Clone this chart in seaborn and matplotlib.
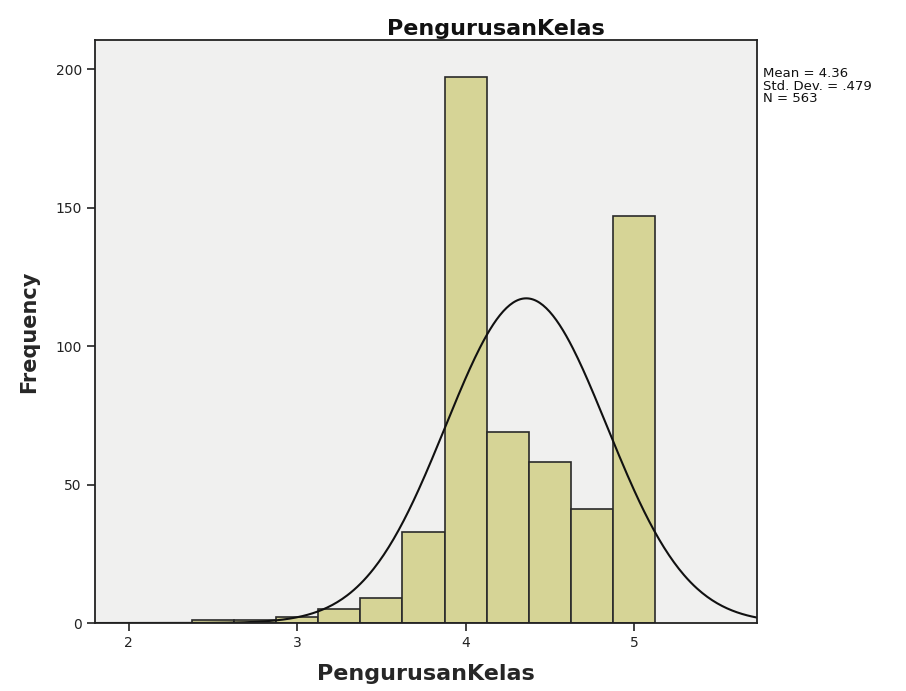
import numpy as np
import pandas as pd
import matplotlib
matplotlib.use("Agg")
import matplotlib.pyplot as plt
import seaborn as sns

# Histogram of PengurusanKelas: bin centres and frequencies
bin_centers = [2.5, 2.75, 3.0, 3.25, 3.5, 3.75, 4.0, 4.25, 4.5, 4.75, 5.0]
frequencies = [1, 1, 2, 5, 9, 33, 197, 69, 58, 41, 147]
bin_width = 0.25

# Summary statistics shown beside the plot
mean_val = 4.36
std_val = 0.479
n_val = 563

x_ticks = [2, 3, 4, 5]
y_ticks = [0, 50, 100, 150, 200]

df = pd.DataFrame({"PengurusanKelas": bin_centers, "count": frequencies})

sns.set_style("white")
plt.rcParams["font.family"] = ["DejaVu Sans"]

fig = plt.figure(figsize=(9.06, 6.91), dpi=100)
ax = fig.add_axes([0.105, 0.0984, 0.7305, 0.8437])
ax.set_facecolor("#f0f0ef")

sns.histplot(data=df, x="PengurusanKelas", weights="count",
             binwidth=bin_width,
             binrange=(min(bin_centers) - bin_width / 2, max(bin_centers) + bin_width / 2),
             color="#d6d496", edgecolor="#2a2a2a", linewidth=1.2, alpha=1.0, ax=ax)

# Fitted normal curve scaled to the histogram
xs = np.linspace(1.80, 5.73, 400)
ys = n_val * bin_width * np.exp(-0.5 * ((xs - mean_val) / std_val) ** 2) / (std_val * np.sqrt(2 * np.pi))
sns.lineplot(x=xs, y=ys, color="#111111", linewidth=1.5, ax=ax)

ax.set_xlim(1.80, 5.73)
ax.set_ylim(0, 210.5)
ax.set_xticks(x_ticks)
ax.set_yticks(y_ticks)
ax.tick_params(axis="both", which="both", direction="out", length=6, width=1.2,
               color="#222222", labelsize=10, labelcolor="#222222",
               bottom=True, left=True, top=False, right=False)
for s in ax.spines.values():
    s.set_color("#222222")
    s.set_linewidth(1.3)

ax.set_xlabel("PengurusanKelas", fontsize=16, fontweight="bold", labelpad=10)
ax.set_ylabel("Frequency", fontsize=15, fontweight="bold", labelpad=12)
fig.text(0.547, 0.958, "PengurusanKelas", fontsize=16, fontweight="bold",
         ha="center", va="center", color="#111111")

fig.text(0.842, 0.903, f"Mean = {mean_val}\nStd. Dev. = .{int(round(std_val*1000))}\nN = {n_val}",
         fontsize=9.5, va="top", ha="left", linespacing=0.95, color="#111111")

fig.savefig("out.png", dpi=100, facecolor="white")
